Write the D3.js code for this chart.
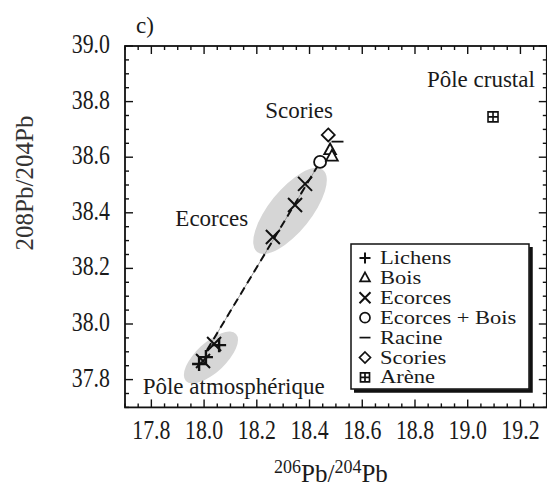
<!DOCTYPE html>
<html><head><meta charset="utf-8">
<script src="https://cdn.jsdelivr.net/npm/d3@7"></script>
<style>body{margin:0;background:#fff}svg{display:block}</style>
</head><body>
<script>
// ---- data ----
const lichens = [[18.057,37.924],[18.007,37.881],[17.981,37.856]];
const bois = [[18.478,38.626],[18.485,38.603]];
const ecorces = [[18.038,37.928],[17.996,37.867],[18.261,38.313],[18.345,38.428],[18.383,38.504]];
const ecorcesBois = [[18.440,38.583]];
const racine = [[18.506,38.656]];
const scories = [[18.471,38.680]];
const arene = [[19.096,38.745]];
const mixLine = [[18.011,37.906],[18.440,38.583]];
const ellipses = [
  {a:[18.201,38.259], b:[18.451,38.554], minor:21},
  {a:[17.931,37.795], b:[18.121,37.964], minor:15}
];
const xTicks = [17.8,18.0,18.2,18.4,18.6,18.8,19.0,19.2];
const yTicks = [37.8,38.0,38.2,38.4,38.6,38.8,39.0];
const legendItems = [
  {sym:"plus", label:"Lichens"},
  {sym:"tri", label:"Bois"},
  {sym:"x", label:"Ecorces"},
  {sym:"circle", label:"Ecorces + Bois"},
  {sym:"dash", label:"Racine"},
  {sym:"diamond", label:"Scories"},
  {sym:"sq", label:"Arène"}
];
const annotations = [
  {t:"Pôle crustal", x:19.05, y:38.852, anchor:"middle"},
  {t:"Scories", x:18.232, y:38.740, anchor:"start"},
  {t:"Ecorces", x:17.891, y:38.352, anchor:"start"},
  {t:"Pôle atmosphérique", x:17.767, y:37.750, anchor:"start"}
];

const FONT="'Liberation Serif', Tinos, 'Times New Roman', 'Noto Serif', 'DejaVu Serif', serif";
const W=547,H=487;
const svg=d3.select("body").append("svg").attr("width",W).attr("height",H)
  .attr("font-family",FONT).style("font-family",FONT);
const x=d3.scaleLinear().domain([17.7,19.3]).range([125,546.8]);
const y=d3.scaleLinear().domain([37.7,39.0]).range([407.4,46]);

function sym(type,r){
  switch(type){
    case "plus": return `M${-r},0H${r}M0,${-r}V${r}`;
    case "x": return `M${-r},${-r}L${r},${r}M${-r},${r}L${r},${-r}`;
    case "tri": return `M0,${-r}L${r*0.9},${r*0.65}L${-r*0.9},${r*0.65}Z`;
    case "diamond": return `M0,${-r}L${r},0L0,${r}L${-r},0Z`;
    case "dash": return `M${-r},0H${r}`;
    case "sq": return `M${-r},${-r}H${r}V${r}H${-r}ZM0,${-r}V${r}M${-r},0H${r}`;
    case "circle": return d3.arc()({innerRadius:0,outerRadius:r,startAngle:0,endAngle:2*Math.PI});
  }
}

// ellipses
ellipses.forEach(e=>{
  const ax=x(e.a[0]),ay=y(e.a[1]),bx=x(e.b[0]),by=y(e.b[1]);
  const cx=(ax+bx)/2,cy=(ay+by)/2;
  const rx=Math.hypot(bx-ax,by-ay)/2;
  const ang=Math.atan2(by-ay,bx-ax)*180/Math.PI;
  svg.append("ellipse").attr("cx",cx).attr("cy",cy).attr("rx",rx).attr("ry",e.minor)
    .attr("transform",`rotate(${ang},${cx},${cy})`).attr("fill","#d6d6d6");
});

// mixing line
const lg=d3.line().x(d=>x(d[0])).y(d=>y(d[1]));
svg.append("path").attr("d",lg(mixLine)).attr("stroke","#999").attr("stroke-width",1).attr("fill","none");
svg.append("path").attr("d",lg(mixLine)).attr("stroke","#111").attr("stroke-width",2).attr("stroke-dasharray","8 5").attr("fill","none");

// frame + ticks
const frame=svg.append("g").attr("stroke","#111").attr("fill","none");
frame.append("rect").attr("x",125).attr("y",46).attr("width",546.8-125).attr("height",407.4-46).attr("stroke-width",1.8);
const xMinor=d3.range(0,33).map(i=>17.7+i*0.05);
const yMinor=d3.range(0,27).map(i=>37.7+i*0.05);
const isMajor=v=>Math.abs(Math.round(v*5)-v*5)<1e-6;
xMinor.forEach(v=>{const L=isMajor(v)?8:4,px=x(v);
  frame.append("line").attr("x1",px).attr("x2",px).attr("y1",407.4).attr("y2",407.4-L).attr("stroke-width",1.4);
  frame.append("line").attr("x1",px).attr("x2",px).attr("y1",46).attr("y2",46+L).attr("stroke-width",1.4);});
yMinor.forEach(v=>{const L=isMajor(v)?8:4,py=y(v);
  frame.append("line").attr("x1",125).attr("x2",125+L).attr("y1",py).attr("y2",py).attr("stroke-width",1.4);
  frame.append("line").attr("x1",546.8).attr("x2",546.8-L).attr("y1",py).attr("y2",py).attr("stroke-width",1.4);});

// tick labels
xTicks.forEach(v=>{
  svg.append("text").attr("transform",`translate(${x(v)},439) scale(0.78,1)`).attr("text-anchor","middle")
    .attr("font-size",28).attr("fill","#1a1a1a").text(v.toFixed(1));
});
yTicks.forEach(v=>{
  svg.append("text").attr("transform",`translate(110,${y(v)+7}) scale(0.78,1)`).attr("text-anchor","end")
    .attr("font-size",28).attr("fill","#1a1a1a").text(v.toFixed(1));
});

// axis titles
const xt=svg.append("text").attr("x",331).attr("y",482).attr("text-anchor","middle").attr("font-size",25).attr("fill","#1a1a1a");
xt.append("tspan").attr("font-size",18).attr("dy",-9).text("206");
xt.append("tspan").attr("dy",9).text("Pb/");
xt.append("tspan").attr("font-size",18).attr("dy",-9).text("204");
xt.append("tspan").attr("dy",9).text("Pb");
svg.append("text").attr("transform","translate(33,183) rotate(-90)").attr("text-anchor","middle")
  .attr("font-size",25).attr("fill","#333").text("208Pb/204Pb");

svg.append("text").attr("x",136).attr("y",33).attr("font-size",23).attr("fill","#1a1a1a").text("c)");

// annotations
annotations.forEach(a=>svg.append("text").attr("x",x(a.x)).attr("y",y(a.y)).attr("text-anchor",a.anchor)
  .attr("font-size",23).attr("fill","#1a1a1a").text(a.t));

// points
function drawPts(data,type,r,sw){
  svg.append("g").selectAll("path").data(data).join("path")
    .attr("transform",d=>`translate(${x(d[0])},${y(d[1])})`)
    .attr("d",sym(type,r)).attr("fill",type==="circle"||type==="tri"||type==="diamond"||type==="sq"?"#fff":"none")
    .attr("stroke","#111").attr("stroke-width",sw);
}
drawPts(ecorces,"x",7,2);
drawPts(lichens,"plus",7,2.4);
drawPts(ecorcesBois,"circle",6,1.8);
drawPts(bois,"tri",6.5,1.8);
drawPts(scories,"diamond",6.5,1.8);
drawPts(racine,"dash",6,1.8);
drawPts(arene,"sq",5,1.6);

// legend
const lgG=svg.append("g");
lgG.append("path").attr("d","M354,391H531V247").attr("stroke","#111").attr("stroke-width",3.5).attr("fill","none");
lgG.append("rect").attr("x",351).attr("y",244).attr("width",178).attr("height",145).attr("fill","#fff").attr("stroke","#111").attr("stroke-width",1.5);
legendItems.forEach((it,i)=>{
  const cy=258+i*19.9;
  const r = it.sym==="sq"?4.5:(it.sym==="circle"?5:5.5);
  lgG.append("path").attr("transform",`translate(365,${cy})`).attr("d",sym(it.sym,r))
    .attr("fill","none").attr("stroke","#111").attr("stroke-width",it.sym==="plus"||it.sym==="x"?2:1.7);
  lgG.append("text").attr("transform",`translate(380,${cy+6}) scale(1.25,1)`).attr("font-size",18)
    .attr("fill","#1a1a1a").text(it.label);
});
</script>
</body></html>
